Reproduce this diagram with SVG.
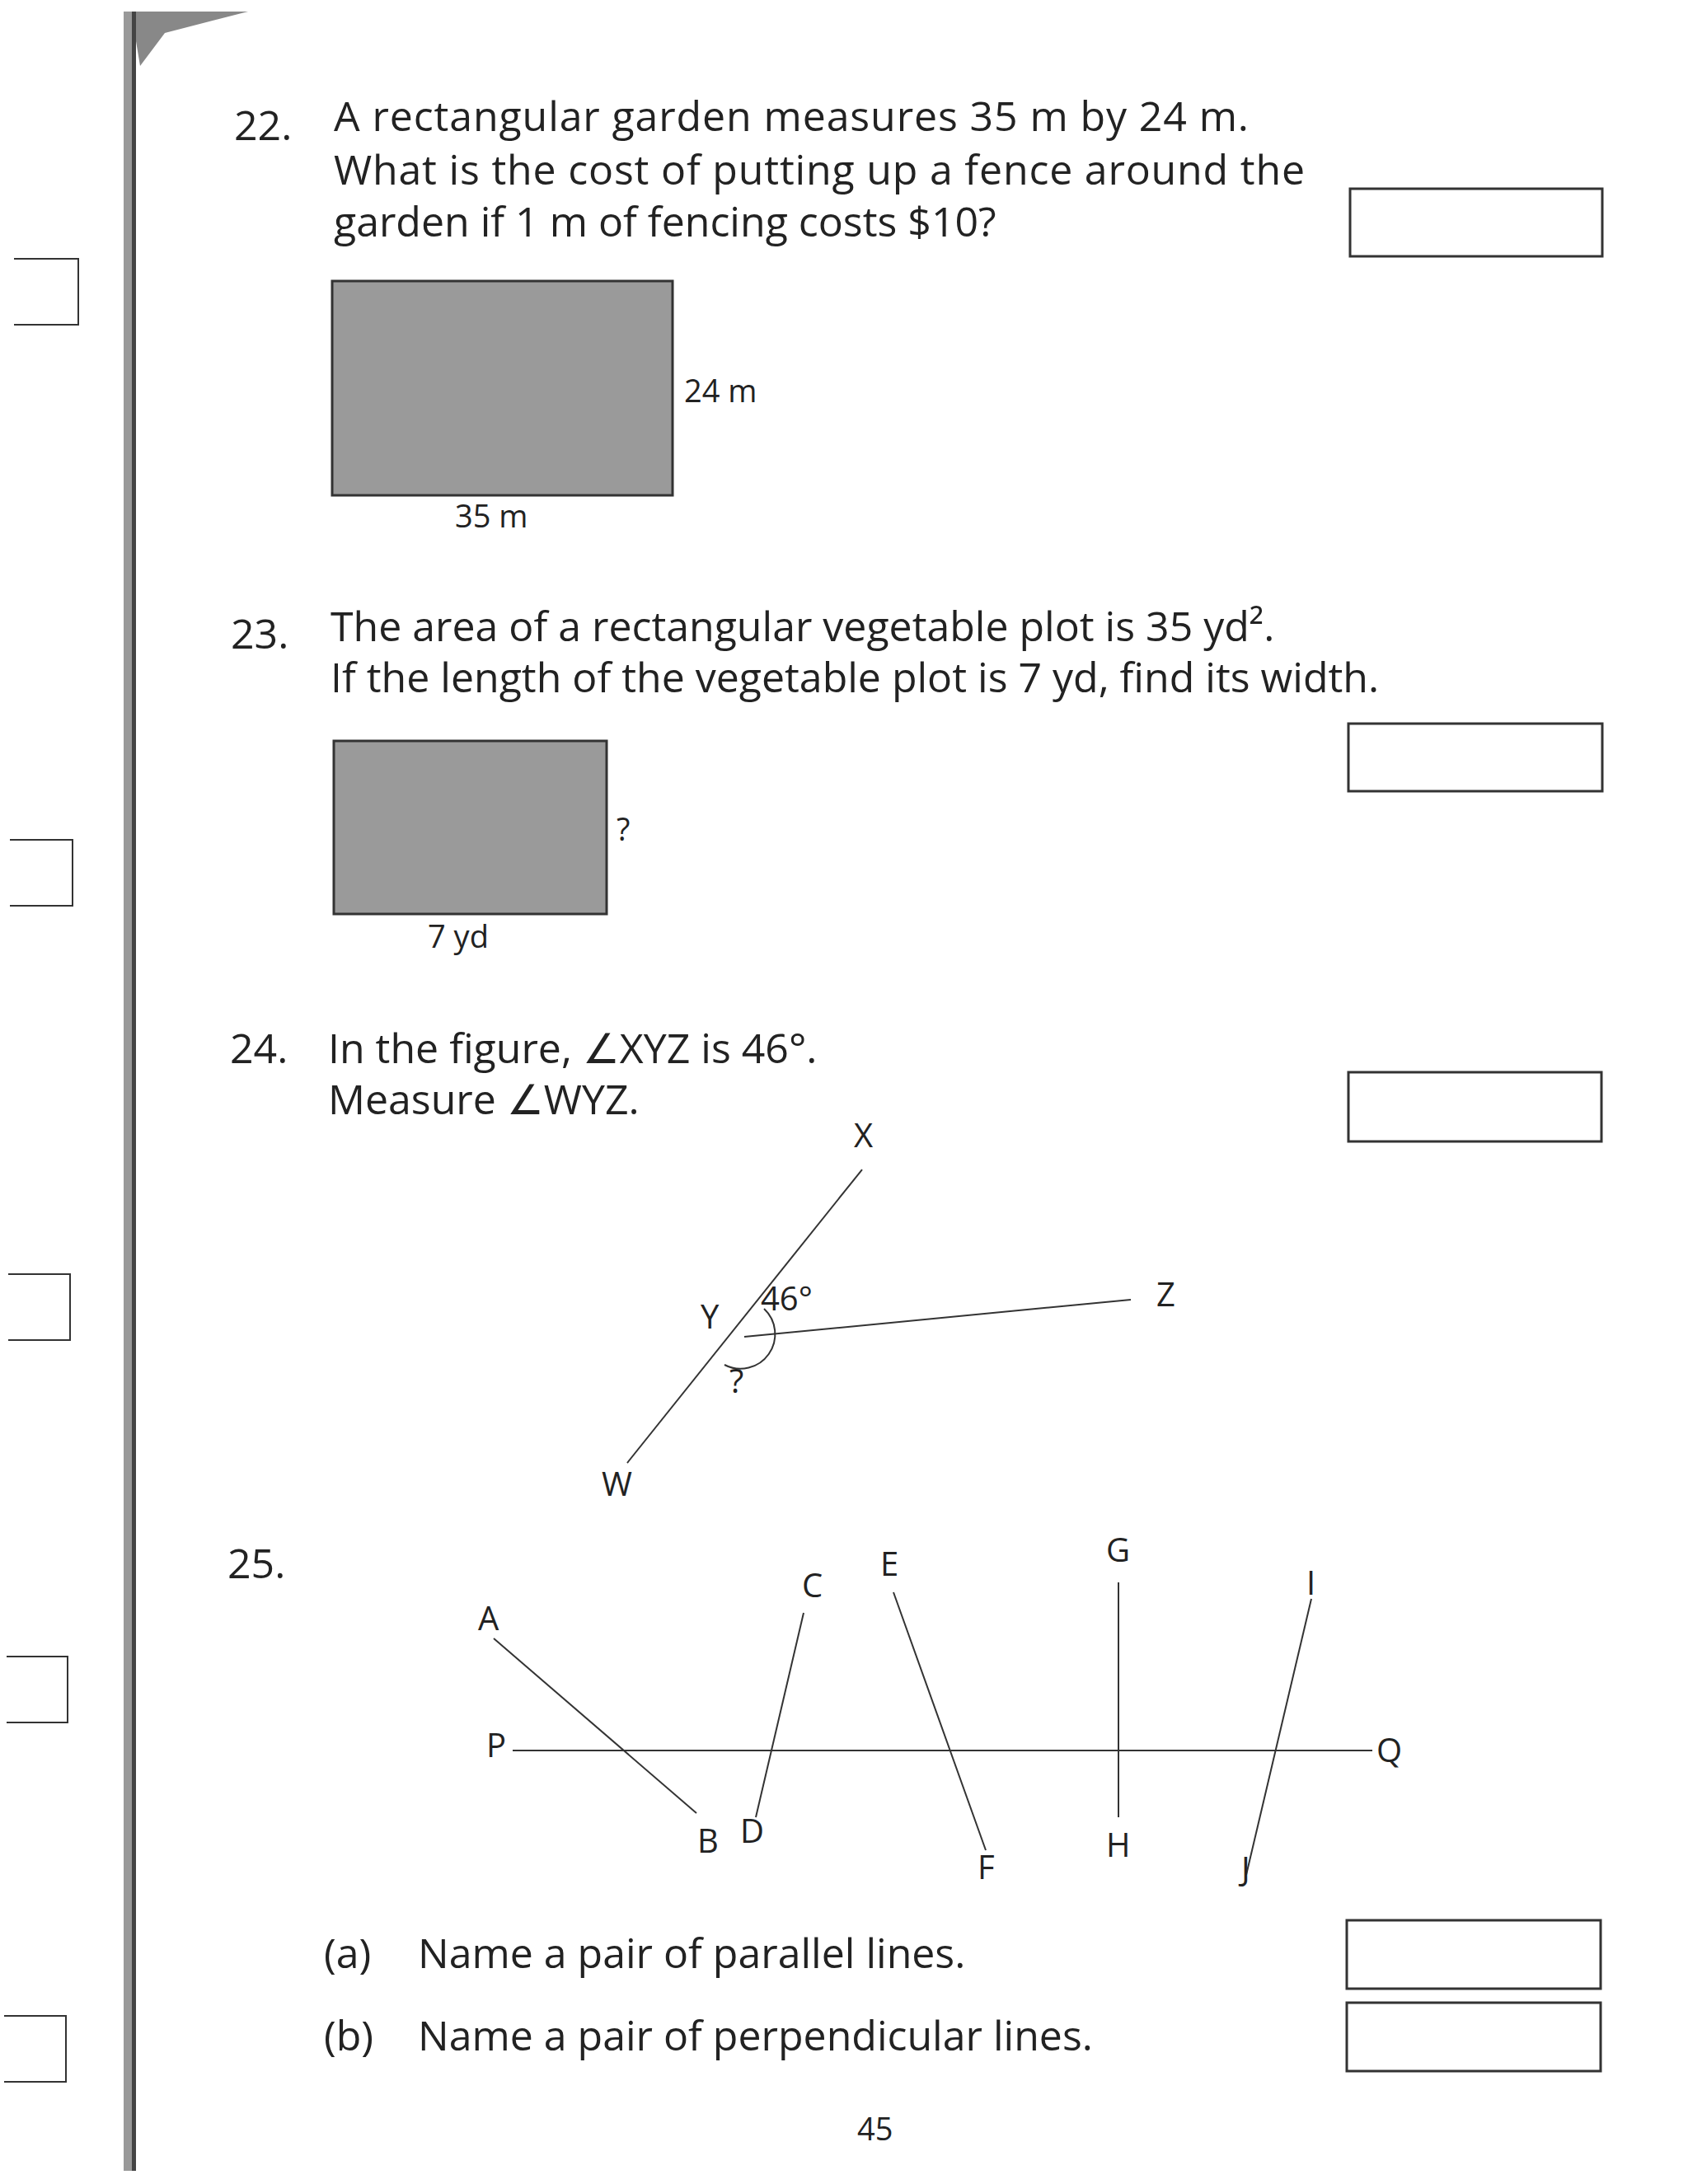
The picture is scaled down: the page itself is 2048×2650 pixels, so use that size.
<svg xmlns="http://www.w3.org/2000/svg" width="2048" height="2650" viewBox="0 0 2048 2650">
<style>
text{font-family:"Open Sans","Noto Sans",sans-serif;fill:#222}
.q{font-size:50px}
.s{font-size:38px}
.l{font-size:40px}
.box{fill:none;stroke:#333;stroke-width:3}
.ln{stroke:#333;stroke-width:2;fill:none}
.sh{fill:#9a9a9a;stroke:#333;stroke-width:3}
</style>
<rect width="2048" height="2650" fill="#fff"/>
<g id="binding">
<polygon points="159,14 301,14 200,40 170,80" fill="#888"/>
<rect x="150" y="14" width="14" height="2620" fill="#999"/>
<rect x="160" y="14" width="5" height="2620" fill="#444"/>
</g>
<g id="margin-boxes" class="ln" stroke-width="3">
<path d="M17,314 H95 V394 H17"/>
<path d="M12,1019 H88 V1099 H12"/>
<path d="M10,1546 H85 V1626 H10"/>
<path d="M8,2010 H82 V2090 H8"/>
<path d="M5,2446 H80 V2526 H5"/>
</g>
<g id="q22">
<text class="q" x="284" y="170">22.</text>
<text class="q" x="405" y="159" textLength="1110">A rectangular garden measures 35 m by 24 m.</text>
<text class="q" x="405" y="224" textLength="1178">What is the cost of putting up a fence around the</text>
<text class="q" x="405" y="287">garden if 1 m of fencing costs $10?</text>
<rect class="box" x="1638" y="229" width="306" height="82"/>
<rect class="sh" x="403" y="341" width="413" height="260"/>
<text class="s" x="830" y="488">24 m</text>
<text class="s" x="552" y="640">35 m</text>
</g>
<g id="q23">
<text class="q" x="280" y="787">23.</text>
<text class="q" x="401" y="778">The area of a rectangular vegetable plot is 35 yd²<tspan>.</tspan></text>
<text class="q" x="401" y="840">If the length of the vegetable plot is 7 yd, find its width.</text>
<rect class="box" x="1636" y="878" width="308" height="82"/>
<rect class="sh" x="405" y="899" width="331" height="210"/>
<text class="s" x="748" y="1020">?</text>
<text class="s" x="519" y="1150">7 yd</text>
</g>
<g id="q24">
<text class="q" x="279" y="1290">24.</text>
<text class="q" x="398" y="1290">In the figure, ∠XYZ is 46°.</text>
<text class="q" x="398" y="1352">Measure ∠WYZ.</text>
<rect class="box" x="1636" y="1301" width="307" height="84"/>
</g>
<g id="angle-figure">
<line class="ln" x1="1046" y1="1419" x2="761" y2="1775"/>
<line class="ln" x1="903" y1="1622" x2="1372" y2="1577" stroke-width="3"/>
<path class="ln" d="M927,1588 A42,42 0 0 1 879,1656"/>
<text class="l" x="1036" y="1392">X</text>
<text class="l" x="1403" y="1585">Z</text>
<text class="l" x="730" y="1815">W</text>
<text class="l" x="850" y="1612">Y</text>
<text class="l" x="923" y="1590">46°</text>
<text class="l" x="885" y="1690">?</text>
</g>
<g id="q25">
<text class="q" x="276" y="1915">25.</text>
</g>
<g id="lines-figure" transform="translate(0,20)">
<line class="ln" x1="622" y1="2104" x2="1665" y2="2104" stroke-width="3"/>
<line class="ln" x1="599" y1="1968" x2="845" y2="2180"/>
<line class="ln" x1="975" y1="1937" x2="917" y2="2185"/>
<line class="ln" x1="1084" y1="1912" x2="1196" y2="2225"/>
<line class="ln" x1="1357" y1="1900" x2="1357" y2="2185"/>
<line class="ln" x1="1591" y1="1920" x2="1512" y2="2255"/>
<text class="l" x="580" y="1958">A</text>
<text class="l" x="590" y="2112">P</text>
<text class="l" x="1670" y="2118">Q</text>
<text class="l" x="846" y="2228">B</text>
<text class="l" x="898" y="2216">D</text>
<text class="l" x="973" y="1918">C</text>
<text class="l" x="1068" y="1892">E</text>
<text class="l" x="1186" y="2260">F</text>
<text class="l" x="1342" y="1875">G</text>
<text class="l" x="1342" y="2233">H</text>
<text class="l" x="1585" y="1915">I</text>
<text class="l" x="1506" y="2262">J</text>
</g>
<g id="q25-parts">
<text class="q" x="393" y="2388">(a)</text>
<text class="q" x="507" y="2388">Name a pair of parallel lines.</text>
<text class="q" x="393" y="2488">(b)</text>
<text class="q" x="507" y="2488">Name a pair of perpendicular lines.</text>
<rect class="box" x="1634" y="2330" width="308" height="83"/>
<rect class="box" x="1634" y="2430" width="308" height="83"/>
<text class="s" x="1040" y="2597">45</text>
</g>
</svg>
